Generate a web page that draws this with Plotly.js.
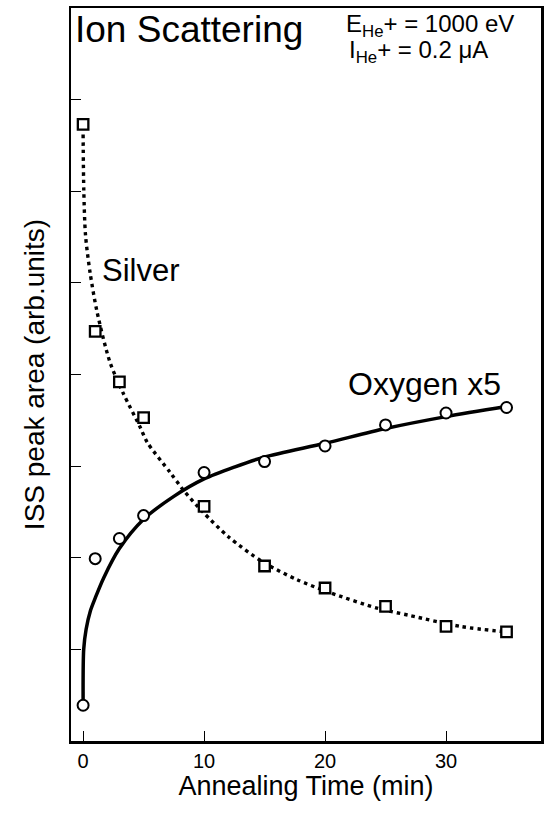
<!DOCTYPE html>
<html>
<head>
<meta charset="utf-8">
<script src="https://cdn.plot.ly/plotly-3.0.1.min.js"></script>
<style>html,body{margin:0;padding:0;background:#fff;}#chart{width:545px;height:815px;}</style>
</head>
<body>
<div id="chart"></div>
<script>
// Measured data points
const time = [0, 1, 3, 5, 10, 15, 20, 25, 30, 35];
const silver = [6.73, 4.47, 3.92, 3.53, 2.56, 1.91, 1.67, 1.47, 1.25, 1.19];
const oxygen = [0.39, 1.99, 2.21, 2.46, 2.93, 3.05, 3.22, 3.45, 3.58, 3.64];

// Fitted curves
const silverFitT = [0, 0.06, 0.2, 0.58, 1.16, 2.23, 3.3, 4.7, 5.3, 7.2, 8.4, 9.9, 12.0, 14.9, 17.7, 20.4, 24.3, 27.0, 31.2, 35];
const silverFitY = [6.62, 6.0, 5.52, 5.11, 4.68, 4.13, 3.80, 3.43, 3.26, 2.93, 2.72, 2.50, 2.23, 1.95, 1.76, 1.62, 1.45, 1.37, 1.25, 1.19];
const oxygenFitT = [0, 0.05, 0.25, 0.6, 1.0, 1.7, 3.0, 5.0, 7.5, 10.0, 12.5, 15.0, 20.0, 25.0, 30.0, 35.0];
const oxygenFitY = [0.45, 1.0, 1.22, 1.42, 1.56, 1.78, 2.1, 2.42, 2.67, 2.86, 2.99, 3.10, 3.25, 3.41, 3.54, 3.65];

const xTicks = [0, 10, 20, 30];
const xTickText = ['0', '10', '20', '30'];
const yTicks = [1, 2, 3, 4, 5, 6, 7];

const FONT = 'Liberation Sans, Arial, Helvetica, sans-serif';

const traces = [
  {x: silverFitT, y: silverFitY, mode: 'lines', line: {color: '#000', width: 3.4, dash: '3.5px,4px', shape: 'spline', smoothing: 0.8}, hoverinfo: 'skip'},
  {x: oxygenFitT, y: oxygenFitY, mode: 'lines', line: {color: '#000', width: 3.5, shape: 'spline', smoothing: 0.8}, hoverinfo: 'skip'},
  {x: time, y: silver, mode: 'markers', marker: {symbol: 'square', size: 10.5, color: '#fff', line: {color: '#000', width: 2.3}}},
  {x: time, y: oxygen, mode: 'markers', marker: {symbol: 'circle', size: 11, color: '#fff', line: {color: '#000', width: 2}}}
];

const layout = {
  width: 545, height: 815,
  margin: {l: 71, r: 4, t: 8, b: 74},
  paper_bgcolor: '#fff', plot_bgcolor: '#fff',
  showlegend: false,
  font: {family: FONT, color: '#000'},
  xaxis: {
    range: [-1, 37.85], tickvals: xTicks, ticktext: xTickText,
    ticks: 'inside', ticklen: 10, tickwidth: 1, tickcolor: '#000',
    showline: true, linewidth: 2.5, linecolor: '#000', mirror: true,
    showgrid: false, zeroline: false,
    tickfont: {size: 20, family: FONT, color: '#000'},
    title: {text: 'Annealing Time (min)', font: {size: 27, family: FONT, color: '#000'}, standoff: 2}
  },
  yaxis: {
    range: [0, 8], tickvals: yTicks, showticklabels: false,
    ticks: 'inside', ticklen: 10, tickwidth: 1, tickcolor: '#000',
    showline: true, linewidth: 2.5, linecolor: '#000', mirror: true,
    showgrid: false, zeroline: false,
    title: {text: 'ISS peak area (arb.units)', font: {size: 28, family: FONT, color: '#000'}, standoff: 16}
  },
  annotations: [
    {text: 'Ion Scattering', x: -0.83, y: 7.77, xref: 'x', yref: 'y', xanchor: 'left', yanchor: 'middle', showarrow: false, font: {size: 37, family: FONT, color: '#000'}},
    {text: 'E<sub>He</sub>+ = 1000 eV', x: 28.7, y: 7.81, xref: 'x', yref: 'y', xanchor: 'center', yanchor: 'middle', showarrow: false, font: {size: 24, family: FONT, color: '#000'}},
    {text: 'I<sub>He</sub>+ = 0.2 μA', x: 27.7, y: 7.53, xref: 'x', yref: 'y', xanchor: 'center', yanchor: 'middle', showarrow: false, font: {size: 24, family: FONT, color: '#000'}},
    {text: 'Silver', x: 1.4, y: 5.13, xref: 'x', yref: 'y', xanchor: 'left', yanchor: 'middle', showarrow: false, font: {size: 31, family: FONT, color: '#000'}},
    {text: 'Oxygen x5', x: 21.7, y: 3.90, xref: 'x', yref: 'y', xanchor: 'left', yanchor: 'middle', showarrow: false, font: {size: 32, family: FONT, color: '#000'}}
  ]
};

Plotly.newPlot('chart', traces, layout, {staticPlot: true, displayModeBar: false});
</script>
</body>
</html>
